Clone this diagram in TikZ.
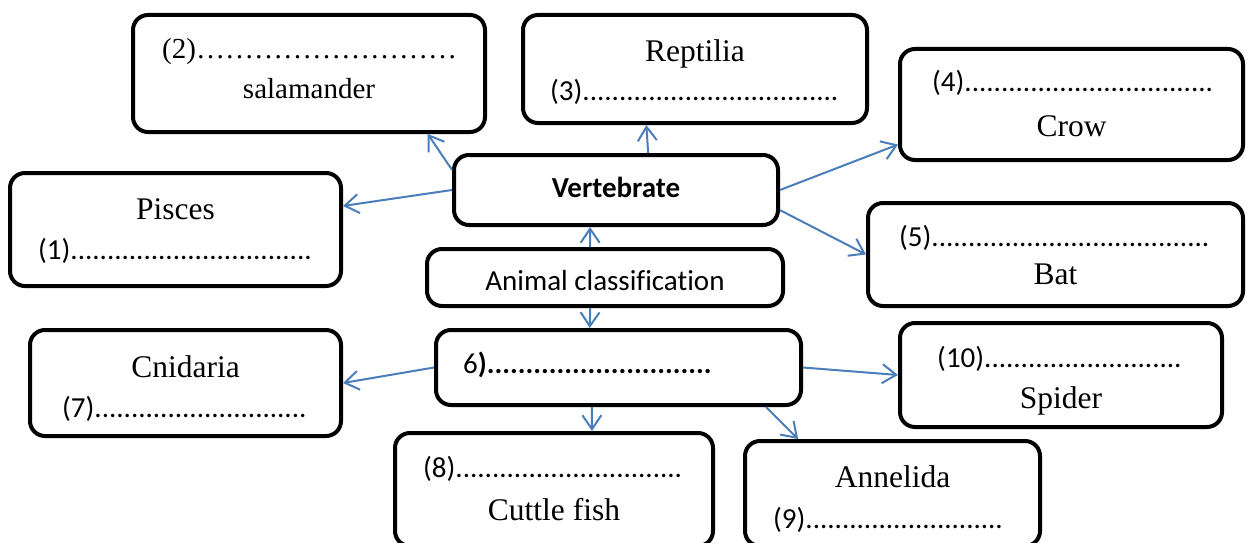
\documentclass[tikz,border=0pt]{standalone}
\usepackage{fontspec}
\setmainfont{Liberation Serif}
\newfontfamily\calfont[Ligatures=NoCommon]{Carlito}
\usetikzlibrary{arrows.meta}
\definecolor{arrowblue}{RGB}{74,126,187}
\newcommand\dotrow[1]{\foreach \k in {1,...,#1}{.}}

\begin{document}
\begin{tikzpicture}[x=1pt,y=-1pt,
    box/.style={draw, line width=4pt, rounded corners=15pt, inner sep=0pt},
    big/.style={anchor=base, inner sep=0pt, font=\fontsize{31.5}{36}\selectfont},
    fillin/.style={anchor=base west, inner sep=0pt, font=\calfont\fontsize{29}{34}\selectfont},
    link/.style={arrowblue, line width=2pt, -{Straight Barb[length=14pt,width=19pt]}}]
        \useasboundingbox (0,0) rectangle (1247,543);
        \clip (0,0) rectangle (1247,543);
        % boxes
        \node[box, minimum width=352pt, minimum height=117pt] (amphibia) at (309,73.5) {};
        \node[box, minimum width=331pt, minimum height=113pt] (pisces) at (175.5,229.5) {};
        \node[box, minimum width=344pt, minimum height=108pt] (reptilia) at (695,69) {};
        \node[box, minimum width=324pt, minimum height=70pt] (vert) at (616,190) {};
        \node[box, minimum width=356pt, minimum height=57pt] (animal) at (605,277.5) {};
        \node[box, minimum width=343pt, minimum height=111pt] (crow) at (1071.5,104.5) {};
        \node[box, minimum width=375pt, minimum height=103pt] (bat) at (1055.5,254.5) {};
        \node[box, minimum width=311pt, minimum height=106pt] (cnidaria) at (185.5,383) {};
        \node[box, minimum width=365pt, minimum height=75pt] (invert) at (618.5,367.5) {};
        \node[box, minimum width=322pt, minimum height=104pt] (spider) at (1061,375) {};
        \node[box, minimum width=318pt, minimum height=113pt] (cuttle) at (554,489.5) {};
        \node[box, minimum width=295pt, minimum height=105pt] (annelida) at (892.5,493.5) {};
        % texts
        \node[anchor=base west, inner sep=0pt, font=\rmfamily\fontsize{29}{34}\selectfont] (amphibia-q) at (162,59) {(2)………………………};
        \node[big, font=\rmfamily\fontsize{29}{34}\selectfont] (amphibia-t) at (309,99) {salamander};
        \node[big] (pisces-t) at (175.5,219) {Pisces};
        \node[fillin] (pisces-q) at (38,259) {(1)\dotrow{33}};
        \node[big] (reptilia-t) at (695,62) {Reptilia};
        \node[fillin] (reptilia-q) at (550,100) {(3)\dotrow{35}};
        \node[anchor=base, inner sep=0pt, font=\calfont\bfseries\fontsize{29}{34}\selectfont] (vert-t) at (616,197) {Vertebrate};
        \node[anchor=base, inner sep=0pt, font=\calfont\fontsize{29}{34}\selectfont] (animal-t) at (605,290) {Animal classification};
        \node[fillin] (crow-q) at (932,92) {(4)\dotrow{34}};
        \node[big] (crow-t) at (1071.5,136) {Crow};
        \node[fillin] (bat-q) at (899,246) {(5)\dotrow{38}};
        \node[big] (bat-t) at (1055.5,284) {Bat};
        \node[big] (cnidaria-t) at (185.5,377) {Cnidaria};
        \node[fillin] (cnidaria-q) at (62,417) {(7)\dotrow{29}};
        \node[fillin] (invert-q) at (463,373) {6\textbf{)\dotrow{29}}};
        \node[fillin] (spider-q) at (937,367) {(10)\dotrow{27}};
        \node[big] (spider-t) at (1061,408) {Spider};
        \node[fillin] (cuttle-q) at (423,477) {(8)\dotrow{31}};
        \node[big] (cuttle-t) at (554,520) {Cuttle fish};
        \node[big] (annelida-t) at (892.5,487) {Annelida};
        \node[fillin] (annelida-q) at (773,528) {(9)\dotrow{27}};
        % arrows
        \draw[link] (vert.173) -- (amphibia.-27);
        \draw[link] (vert.west) -- (pisces.8);
        \draw[link] (vert.49) -- (reptilia.-131);
        \draw[link] (vert.east) -- (crow.-167);
        \draw[link] (vert.-7) -- (bat.west);
        \draw[link] (animal.116) -- (vert.-125);
        \draw[link] (animal.-116) -- (invert.126);
        \draw[link] (invert.west) -- (cnidaria.east);
        \draw[link] (invert.-124) -- (cuttle.57);
        \draw[link] (invert.-15) -- (annelida.150);
        \draw[link] (invert.east) -- (spider.west);
     \end{tikzpicture}
\end{document}
